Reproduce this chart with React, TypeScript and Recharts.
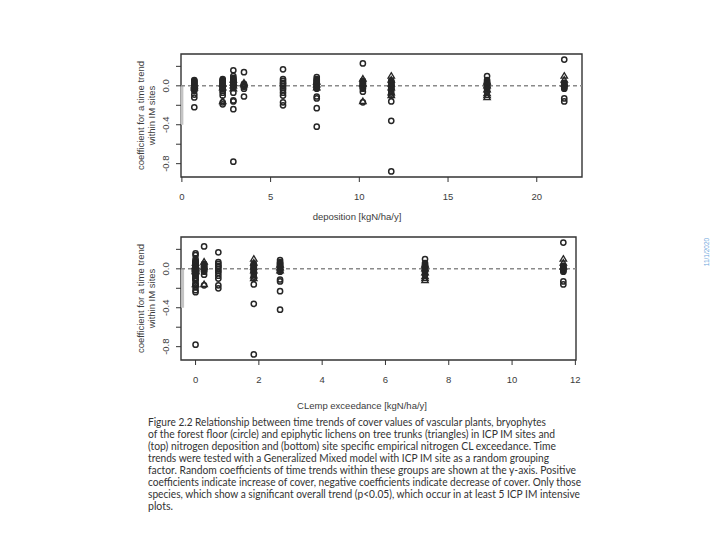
import React from 'react';
import { ScatterChart, Scatter, XAxis, YAxis, ReferenceLine, ReferenceArea } from 'recharts';

// Per-site explanatory values (one entry per ICP IM site)
const siteDeposition = [0.7, 2.3, 2.9, 3.5, 5.7, 7.6, 10.2, 11.8, 17.2, 21.55];
const siteExceedance = [0, 0, 0, 0, 0.72, 2.67, 0.27, 1.84, 7.25, 11.62];

// Random coefficients of time trends: vascular plants & bryophytes (circles)
const siteCircles: number[][] = [
  [0.06, 0.05, 0.04, 0.03, 0.02, 0.01, 0.0, -0.01, -0.02, -0.03, -0.04, -0.05, -0.09, -0.12, -0.22],
  [0.07, 0.06, 0.05, 0.04, 0.03, 0.02, 0.01, 0.0, -0.01, -0.02, -0.03, -0.05, -0.07, -0.1, -0.17, -0.19],
  [0.16, 0.1, 0.08, 0.07, 0.06, 0.05, 0.04, 0.03, 0.02, 0.01, 0.0, -0.01, -0.02, -0.07, -0.15, -0.16, -0.24, -0.78],
  [0.14, 0.02, 0.01, 0.0, -0.01, -0.03, -0.11],
  [0.17, 0.07, 0.05, 0.03, 0.02, 0.0, -0.02, -0.04, -0.07, -0.1, -0.17, -0.2],
  [0.09, 0.07, 0.06, 0.05, 0.04, 0.03, 0.02, 0.01, 0.0, -0.01, -0.02, -0.03, -0.11, -0.13, -0.23, -0.42],
  [0.23, 0.05, 0.04, 0.03, 0.02, 0.01, 0.0, -0.01, -0.02, -0.03, -0.06, -0.17],
  [0.05, 0.04, 0.03, 0.02, 0.01, 0.0, -0.01, -0.02, -0.03, -0.05, -0.08, -0.1, -0.16, -0.36, -0.88],
  [0.1, 0.06, 0.04, 0.03, 0.02, 0.01, 0.0, -0.01, -0.02, -0.03, -0.06],
  [0.27, 0.03, 0.02, 0.01, 0.0, -0.01, -0.02, -0.03, -0.13, -0.16],
];

// Epiphytic lichens (triangles)
const siteTriangles: number[][] = [
  [0.0, -0.02],
  [0.02, -0.02, -0.16],
  [0.06, 0.03, 0.0, -0.03],
  [0.03, 0.01],
  [],
  [0.04, 0.01, -0.02],
  [0.07, 0.02, -0.16],
  [0.1, 0.06, 0.02, -0.02, -0.07, -0.1],
  [0.04, 0.0, -0.04, -0.08, -0.1, -0.12],
  [0.1, 0.06, 0.02],
];

const yTicks = [0.2, 0.0, -0.2, -0.4, -0.6, -0.8];
const yLabelled = [0.0, -0.4, -0.8];
const depTicks = [0, 5, 10, 15, 20];
const excTicks = [0, 2, 4, 6, 8, 10, 12];

const yTitle1 = 'coefficient for a time trend';
const yTitle2 = 'within IM sites';
const depTitle = 'deposition [kgN/ha/y]';
const excTitle = 'CLemp exceedance [kgN/ha/y]';
const dateText = '11/1/2020';

const captionLines = [
  'Figure 2.2 Relationship between time trends of cover values of vascular plants, bryophytes',
  'of the forest floor (circle) and epiphytic lichens on tree trunks (triangles) in ICP IM sites and',
  '(top) nitrogen deposition and (bottom) site specific empirical nitrogen CL exceedance. Time',
  'trends were tested with a Generalized Mixed model with ICP IM site as a random grouping',
  'factor. Random coefficients of time trends within these groups are shown at the y-axis. Positive',
  'coefficients indicate increase of cover, negative coefficients indicate decrease of cover. Only those',
  'species, which show a significant overall trend (p<0.05), which occur in at least 5 ICP IM intensive',
  'plots.',
];
const captionWidths = [398, 407, 408, 401, 428, 433, 432, 0];

const build = (xs: number[], vals: number[][]) =>
  vals.flatMap((arr, i) => arr.map((v) => ({ x: xs[i], y: v })));

const depCircles = build(siteDeposition, siteCircles);
const depTriangles = build(siteDeposition, siteTriangles);
const excCircles = build(siteExceedance, siteCircles);
const excTriangles = build(siteExceedance, siteTriangles);

const FONT = '"Liberation Sans", Arial, sans-serif';
const INK = '#262626';
const TXT = '#3c3c3c';

const CircleShape = (p: any) => (
  <circle cx={p.cx} cy={p.cy} r={2.6} fill="none" stroke={INK} strokeWidth={1.5} />
);
const TriShape = (p: any) => {
  const s = 3.4;
  const d = `M${p.cx},${p.cy - s} L${p.cx + s * 0.95},${p.cy + s * 0.62} L${p.cx - s * 0.95},${p.cy + s * 0.62} Z`;
  return <path d={d} fill="none" stroke={INK} strokeWidth={1.3} />;
};

const YTick = (p: any) => {
  const v = p.payload.value;
  if (!yLabelled.some((t) => Math.abs(t - v) < 1e-6)) return <g />;
  return (
    <text
      x={p.x}
      y={p.y}
      transform={`rotate(-90, ${p.x}, ${p.y})`}
      textAnchor="middle"
      fontSize={9.5}
      fontFamily={FONT}
      fill={TXT}
    >
      {Math.abs(v) < 1e-9 ? '0.0' : v.toFixed(1)}
    </text>
  );
};

const XTick = (p: any) => (
  <text x={p.x} y={p.y} dy="0.35em" textAnchor="middle" fontSize={9.5} fontFamily={FONT} fill={TXT}>
    {p.payload.value}
  </text>
);

const yDomain: [number, number] = [-0.937, 0.327];

function Panel(props: {
  top: number;
  height: number;
  margin: any;
  xDomain: [number, number];
  xTicks: number[];
  circles: any[];
  triangles: any[];
  artifactX: number;
}) {
  const { xDomain } = props;
  return (
    <div style={{ position: 'absolute', left: 0, top: props.top }}>
      <ScatterChart width={720} height={props.height} margin={props.margin}>
        <XAxis
          type="number"
          dataKey="x"
          domain={xDomain}
          ticks={props.xTicks}
          allowDataOverflow
          axisLine={false}
          tickLine={{ stroke: '#333', strokeWidth: 1 }}
          tickSize={5}
          tickMargin={15}
          tick={XTick}
          height={30}
          interval={0}
        />
        <YAxis
          type="number"
          dataKey="y"
          domain={yDomain}
          ticks={yTicks}
          allowDataOverflow
          axisLine={false}
          tickLine={{ stroke: '#333', strokeWidth: 1 }}
          tickSize={5}
          tickMargin={7}
          tick={YTick}
          width={40}
          interval={0}
        />
        <ReferenceLine
          segment={[
            { x: props.artifactX, y: 0 },
            { x: props.artifactX, y: -0.4 },
          ]}
          stroke="#c4c4c4"
          strokeWidth={3}
          ifOverflow="visible"
        />
        <ReferenceLine y={0} stroke="#8a8a8a" strokeDasharray="4 3" strokeWidth={1.6} />
        <Scatter data={props.circles} shape={CircleShape} isAnimationActive={false} />
        <Scatter data={props.triangles} shape={TriShape} isAnimationActive={false} />
        <ReferenceArea
          x1={xDomain[0]}
          x2={xDomain[1]}
          y1={yDomain[0]}
          y2={yDomain[1]}
          fill="none"
          stroke="#333"
          strokeWidth={1.4}
          ifOverflow="visible"
        />
      </ScatterChart>
    </div>
  );
}

export default function App() {
  return (
    <div style={{ position: 'absolute', left: 0, top: 0, width: 720, height: 540, background: '#fff' }}>
      <Panel
        top={0}
        height={240}
        margin={{ top: 54, right: 138, bottom: 33, left: 141 }}
        xDomain={[-0.05, 22.55]}
        xTicks={depTicks}
        circles={depCircles}
        triangles={depTriangles}
        artifactX={0}
      />
      <Panel
        top={230}
        height={170}
        margin={{ top: 7, right: 144, bottom: 10, left: 141 }}
        xDomain={[-0.46, 12.02]}
        xTicks={excTicks}
        circles={excCircles}
        triangles={excTriangles}
        artifactX={-0.41}
      />
      <svg
        width={720}
        height={540}
        style={{ position: 'absolute', left: 0, top: 0, pointerEvents: 'none' }}
      >
        <g fontFamily={FONT} fontSize={9.5} fill={TXT}>
          <text transform="translate(140,115.5) rotate(-90)" textAnchor="middle" dominantBaseline="central">
            {yTitle1}
          </text>
          <text transform="translate(151,115.5) rotate(-90)" textAnchor="middle" dominantBaseline="central">
            {yTitle2}
          </text>
          <text transform="translate(140,298.5) rotate(-90)" textAnchor="middle" dominantBaseline="central">
            {yTitle1}
          </text>
          <text transform="translate(151,298.5) rotate(-90)" textAnchor="middle" dominantBaseline="central">
            {yTitle2}
          </text>
          <text x={357} y={216} textAnchor="middle" dominantBaseline="central">
            {depTitle}
          </text>
          <text x={362} y={405} textAnchor="middle" dominantBaseline="central">
            {excTitle}
          </text>
        </g>
        <g fontFamily='Lato, "Open Sans", sans-serif' fontSize={10.5} fill="#333">
          {captionLines.map((line, i) => (
            <text
              key={i}
              x={148}
              y={421.7 + i * 12}
              dominantBaseline="central"
              {...(captionWidths[i] > 0 ? { textLength: captionWidths[i], lengthAdjust: 'spacingAndGlyphs' } : {})}
            >
              {line}
            </text>
          ))}
        </g>
        <text
          transform="translate(706,252) rotate(-90)"
          textAnchor="middle"
          dominantBaseline="central"
          fontFamily={FONT}
          fontSize={6.5}
          fill="#6fa8dc"
        >
          {dateText}
        </text>
      </svg>
    </div>
  );
}
